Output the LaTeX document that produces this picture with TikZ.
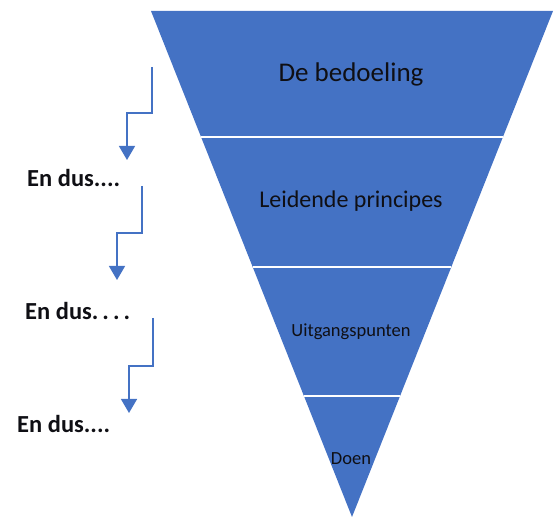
\documentclass[tikz,border=0pt]{standalone}
\usepackage{fontspec}
\setmainfont{Carlito}
\usetikzlibrary{arrows.meta, calc, positioning}
\definecolor{officeblue}{RGB}{68, 114, 196}
\definecolor{darktext}{RGB}{15, 15, 20}

\begin{document}
\begin{tikzpicture} [%
    x = 1pt,
    y = 1pt,
    >= { Triangle[width=16pt, length=14pt] },
    flow/.style = {%
      ->,
      draw = officeblue,
      line width = 1.5pt },
    band/.style = {%
      fill = officeblue,
      draw = none },
    gap/.style = {%
      draw = white,
      line width = 1.6pt },
    level/.style = {%
      anchor = base,
      inner sep = 0pt,
      text = darktext },
    andso/.style = {%
      anchor = base west,
      inner sep = 0pt,
      font = \fontsize{24.5}{28}\selectfont\bfseries,
      text = darktext }
  ]

  \useasboundingbox (0,0) rectangle (558,517);

  % the funnel
  \coordinate (apex) at (352,0);
  \coordinate (tl) at (151,506);
  \coordinate (tr) at (553,506);
  \fill[band] (apex) -- (tl) -- (tr) -- cycle;

  \draw[gap] ($(apex)!0.751!(tl)$) -- ($(apex)!0.751!(tr)$);
  \draw[gap] ($(apex)!0.494!(tl)$) -- ($(apex)!0.494!(tr)$);
  \draw[gap] ($(apex)!0.239!(tl)$) -- ($(apex)!0.239!(tr)$);

  \node[level, font=\fontsize{27}{32}\selectfont] (intent) at (351,435) {De bedoeling};
  \node[level, font=\fontsize{24}{28}\selectfont] (principles) at (351,309) {Leidende principes};
  \node[level, font=\fontsize{18.5}{22}\selectfont] (startpoints) at (351,180) {Uitgangspunten};
  \node[level, font=\fontsize{18.5}{22}\selectfont] (doing) at (351,52) {Doen};

  % the steps down
  \coordinate (s1) at (152,450);
  \coordinate (e1) at (127,357);
  \coordinate (s2) at (142,331);
  \coordinate (e2) at (117,237);
  \coordinate (s3) at (153,199);
  \coordinate (e3) at (129,104);

  \draw[flow] (s1) -- ++(0,-46) -| (e1);
  \draw[flow] (s2) -- ++(0,-47) -| (e2);
  \draw[flow] (s3) -- ++(0,-48) -| (e3);

  \node[andso] (so1) at (27,330) {En dus....};
  \node[andso] (so2) at (25,197) {En dus.\kern4pt.\kern4pt.\kern4pt.};
  \node[andso] (so3) at (17,84) {En dus....};

\end{tikzpicture}
\end{document}
